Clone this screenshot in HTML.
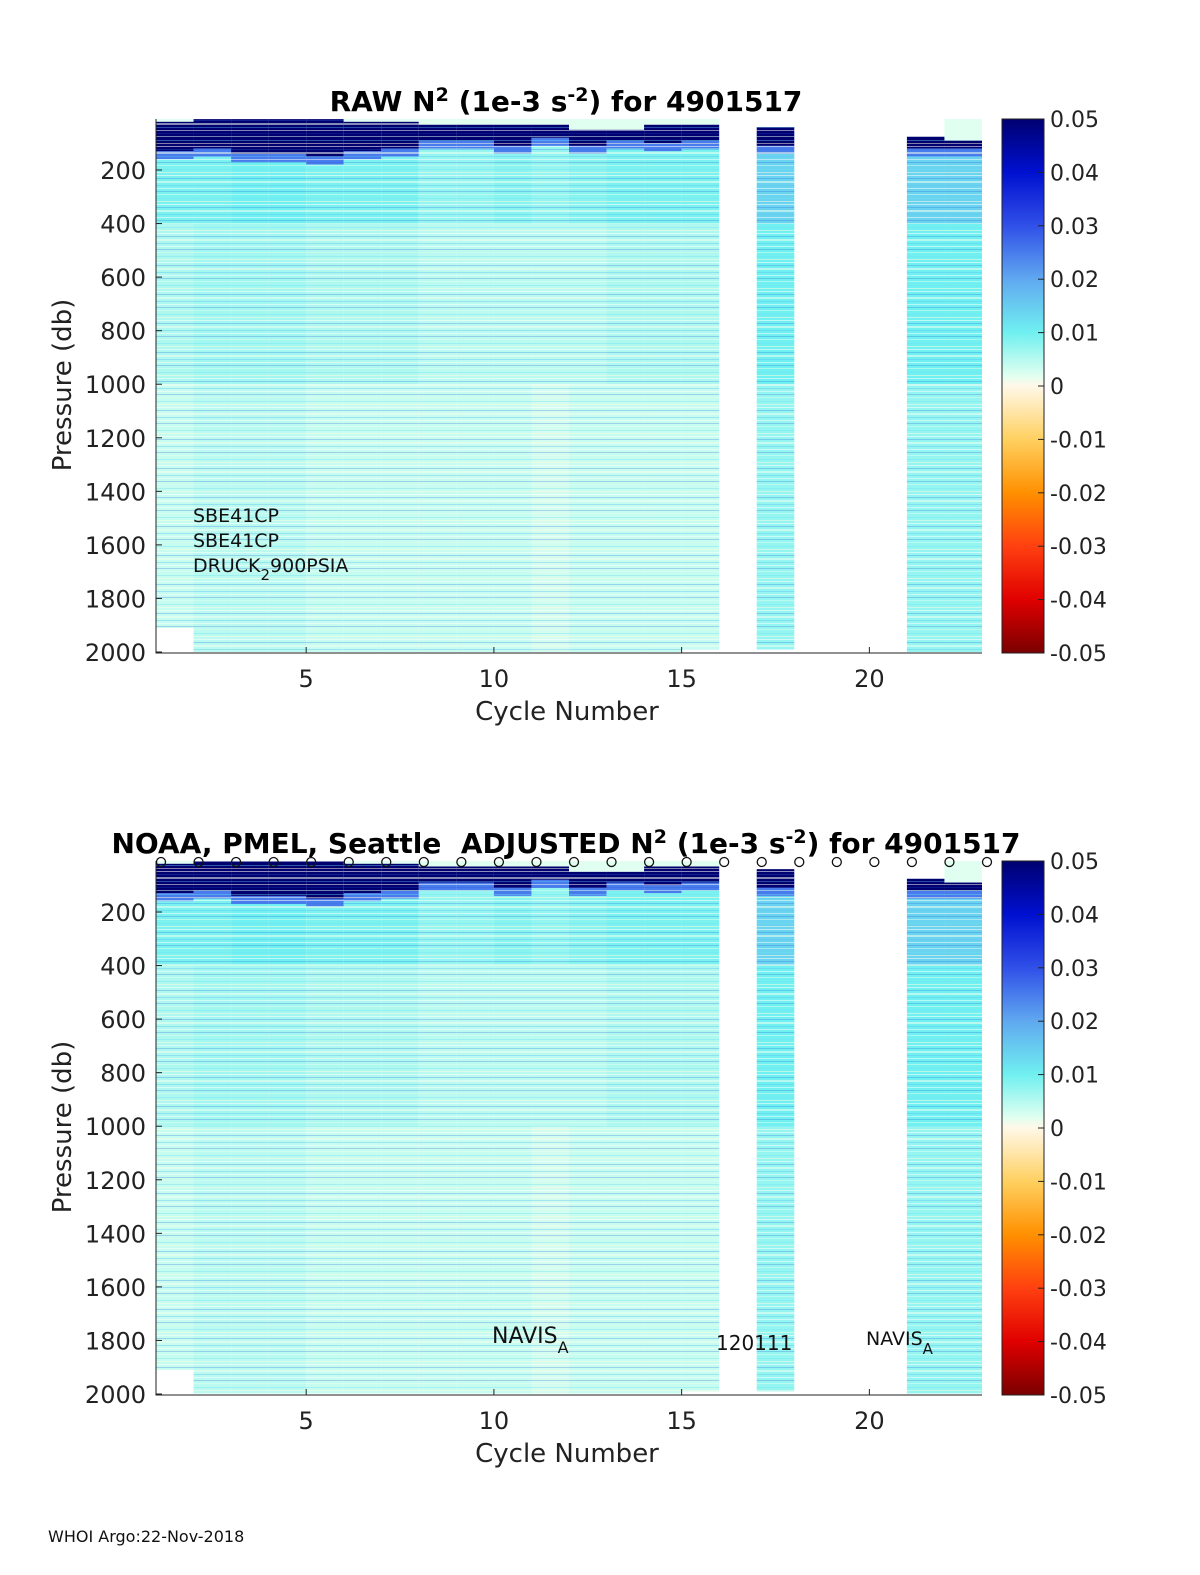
<!DOCTYPE html>
<html><head><meta charset="utf-8"><style>
html,body{margin:0;padding:0;background:#fff;overflow:hidden;}
svg{display:block;position:fixed;left:0;top:0;width:100vw;height:100vh;}
svg text{font-family:"DejaVu Sans","Liberation Sans",sans-serif;}
</style></head><body>
<svg id="fig" viewBox="0 0 1200 1575" preserveAspectRatio="none" xmlns="http://www.w3.org/2000/svg">
<defs>
<pattern id="stripes" width="40" height="29" patternUnits="userSpaceOnUse">
<rect y="1" width="40" height="1" fill="#ffffff" opacity="0.55"/>
<rect y="4" width="40" height="1" fill="#3070e0" opacity="0.3"/>
<rect y="7" width="40" height="2" fill="#f0fff0" opacity="0.55"/>
<rect y="11" width="40" height="1" fill="#60c0f0" opacity="0.4"/>
<rect y="14" width="40" height="1" fill="#ffffff" opacity="0.5"/>
<rect y="17" width="40" height="1" fill="#2050d0" opacity="0.25"/>
<rect y="20" width="40" height="1" fill="#e0fff0" opacity="0.5"/>
<rect y="24" width="40" height="1" fill="#70e0f0" opacity="0.4"/>
<rect y="27" width="40" height="1" fill="#fffbe0" opacity="0.5"/>
</pattern>
<linearGradient id="cbar" x1="0" y1="1" x2="0" y2="0">
<stop offset="0" stop-color="#7a0000"/><stop offset="0.1" stop-color="#e00000"/>
<stop offset="0.2" stop-color="#ff4010"/><stop offset="0.3" stop-color="#ff9000"/>
<stop offset="0.4" stop-color="#ffd060"/><stop offset="0.5" stop-color="#fff8e8"/>
<stop offset="0.52" stop-color="#e0fff0"/><stop offset="0.6" stop-color="#70f0f0"/>
<stop offset="0.7" stop-color="#60a8f0"/><stop offset="0.8" stop-color="#3050e8"/>
<stop offset="0.9" stop-color="#0010d0"/><stop offset="1" stop-color="#000070"/>
</linearGradient>
</defs>
</svg>
<script>
const cycles=[1,2,3,4,5,6,7,8,9,10,11,12,13,14,15,17,21,22];
const topP=[20,10,10,10,10,20,20,30,30,30,30,50,50,30,30,40,75,90];
const botP=[1910,2000,2000,2000,2000,2000,2000,2000,2000,2000,2000,2000,2000,2000,1990,1990,2000,2000];
const navyP=[130,120,140,140,150,130,120,90,90,110,80,110,90,100,90,110,120,120];
const upperV=[0.009,0.009,0.010,0.010,0.009,0.009,0.009,0.007,0.007,0.008,0.007,0.008,0.009,0.009,0.009,0.014,0.014,0.014];
const midV=[0.005,0.006,0.006,0.006,0.005,0.005,0.005,0.004,0.004,0.004,0.004,0.004,0.005,0.005,0.005,0.010,0.010,0.010];
const deepV=[0.003,0.004,0.004,0.004,0.003,0.003,0.003,0.003,0.003,0.003,0.002,0.003,0.003,0.003,0.003,0.007,0.007,0.007];
const xTicks=[5,10,15,20];
const yTicks=[200,400,600,800,1000,1200,1400,1600,1800,2000];
const cTicks=[0.05,0.04,0.03,0.02,0.01,0,-0.01,-0.02,-0.03,-0.04,-0.05];
const circleCycles=[1,2,3,4,5,6,7,8,9,10,11,12,13,14,15,16,17,18,19,20,21,22,23];

const svg=document.getElementById('fig');
const NS='http://www.w3.org/2000/svg';
function mk(tag,attrs,parent,text){const e=document.createElementNS(NS,tag);for(const k in attrs)e.setAttribute(k,attrs[k]);if(text!==undefined)e.textContent=text;(parent||svg).appendChild(e);return e;}
function cmap(v){
  const stops=[[-0.05,[122,0,0]],[-0.04,[224,0,0]],[-0.03,[255,64,16]],[-0.02,[255,144,0]],[-0.01,[255,208,96]],[0,[255,248,232]],[0.001,[224,255,240]],[0.01,[112,240,240]],[0.02,[96,168,240]],[0.03,[48,80,232]],[0.04,[0,16,208]],[0.05,[0,0,112]]];
  v=Math.max(-0.05,Math.min(0.05,v));
  for(let i=0;i<stops.length-1;i++){const[a,ca]=stops[i],[b,cb]=stops[i+1];if(v<=b){const t=(v-a)/(b-a);return 'rgb('+ca.map((c,j)=>Math.round(c+(cb[j]-c)*t)).join(',')+')';}}
  return 'rgb(0,0,112)';
}
function panel(top,title,notes,circles){
  const L=156,R=982,T=top,B=top+534;
  const xs=c=>L+(c-1)*(R-L)/22;
  const ys=p=>B-1-(2000-p)*(482/1800);
  const g=mk('g',{},svg);
  
  
  cycles.forEach((c,i)=>{
    const x0=xs(c),w=xs(c+1)-x0;
    const segs=[[8,topP[i],0.001],[topP[i],navyP[i],0.05],[navyP[i],navyP[i]+30,0.025],[navyP[i]+30,400,upperV[i]],[400,1000,midV[i]],[1000,botP[i],deepV[i]]];
    segs.forEach((s,k)=>{
      if(k===0 && (c===17||c===21)) return;
      const y0=Math.max(T,ys(s[0])),y1=Math.min(B,ys(s[1]));
      const r=mk('rect',{x:x0,y:y0,width:w,height:Math.max(0,y1-y0),fill:cmap(s[2])},g);
      
      
    });
    const y0=Math.max(T,ys(topP[i])),y1=Math.min(B,ys(botP[i]));
    const o=mk('rect',{x:x0,y:y0,width:w,height:y1-y0,fill:'url(#stripes)'},g);
    
    
  });
  mk('path',{d:`M${L} ${T}V${B}H${R}`,stroke:'#222',fill:'none','stroke-width':1},g);
  xTicks.forEach(t=>{mk('line',{x1:xs(t),x2:xs(t),y1:B,y2:B-6,stroke:'#222'},g);
    const e=mk('text',{x:xs(t),y:B+34,'font-size':24,'text-anchor':'middle',fill:'#222'},g,t);
    });
  yTicks.forEach(t=>{mk('line',{x1:L,x2:L+6,y1:ys(t),y2:ys(t),stroke:'#222'},g);
    const e=mk('text',{x:L-10,y:ys(t)+9,'font-size':24,'text-anchor':'end',fill:'#222'},g,t);
    });
  let e=mk('text',{x:567,y:B+67,'font-size':26,'text-anchor':'middle',fill:'#222'},g,'Cycle Number');
  
  e=mk('text',{x:0,y:0,'font-size':26,'text-anchor':'middle',fill:'#222',transform:`translate(71 ${T+266}) rotate(-90)`},g,'Pressure (db)');
  
  e=mk('text',{x:566,y:T-8,'font-size':28,'font-weight':'bold','text-anchor':'middle',fill:'#000'},g);
  e.innerHTML=title;
  
  const cb=mk('rect',{x:1002,y:T,width:42,height:534,fill:'url(#cbar)',stroke:'#222'},g);
  
  cTicks.forEach(t=>{const y=T+(0.05-t)/0.1*534;
    mk('line',{x1:1038,x2:1044,y1:y,y2:y,stroke:'#222'},g);
    const e=mk('text',{x:1050,y:y+8,'font-size':22,fill:'#222'},g,t===0?'0':t.toFixed(2));
    });
  notes.forEach(n=>{const e=mk('text',{x:n[0],y:n[1],'font-size':n[3],fill:'#111'},g);e.innerHTML=n[2];
    });
  if(circles){circleCycles.forEach(c=>{const e=mk('circle',{cx:xs(c)+5,cy:T+1,r:4.5,fill:'none',stroke:'#111','stroke-width':1.3},g);
    });}
}
panel(119,'RAW N<tspan dy="-10" font-size="19">2</tspan><tspan dy="10"> (1e-3 s</tspan><tspan dy="-10" font-size="19">-2</tspan><tspan dy="10">) for 4901517</tspan>',
 [[193,522,'SBE41CP',19],[193,547,'SBE41CP',19],[193,572,'DRUCK<tspan dy="8" font-size="15">2</tspan><tspan dy="-8">900PSIA</tspan>',19]],false);
panel(861,'NOAA, PMEL, Seattle&#160; ADJUSTED N<tspan dy="-10" font-size="19">2</tspan><tspan dy="10"> (1e-3 s</tspan><tspan dy="-10" font-size="19">-2</tspan><tspan dy="10">) for 4901517</tspan>',
 [[492,1343,'NAVIS<tspan dy="10" font-size="16">A</tspan>',22],[716,1350,'120111',20],[866,1345,'NAVIS<tspan dy="9" font-size="15">A</tspan>',19]],true);
const f=mk('text',{x:48,y:1542,'font-size':16,fill:'#111'},svg,'WHOI Argo:22-Nov-2018');


</script>
</body></html>
